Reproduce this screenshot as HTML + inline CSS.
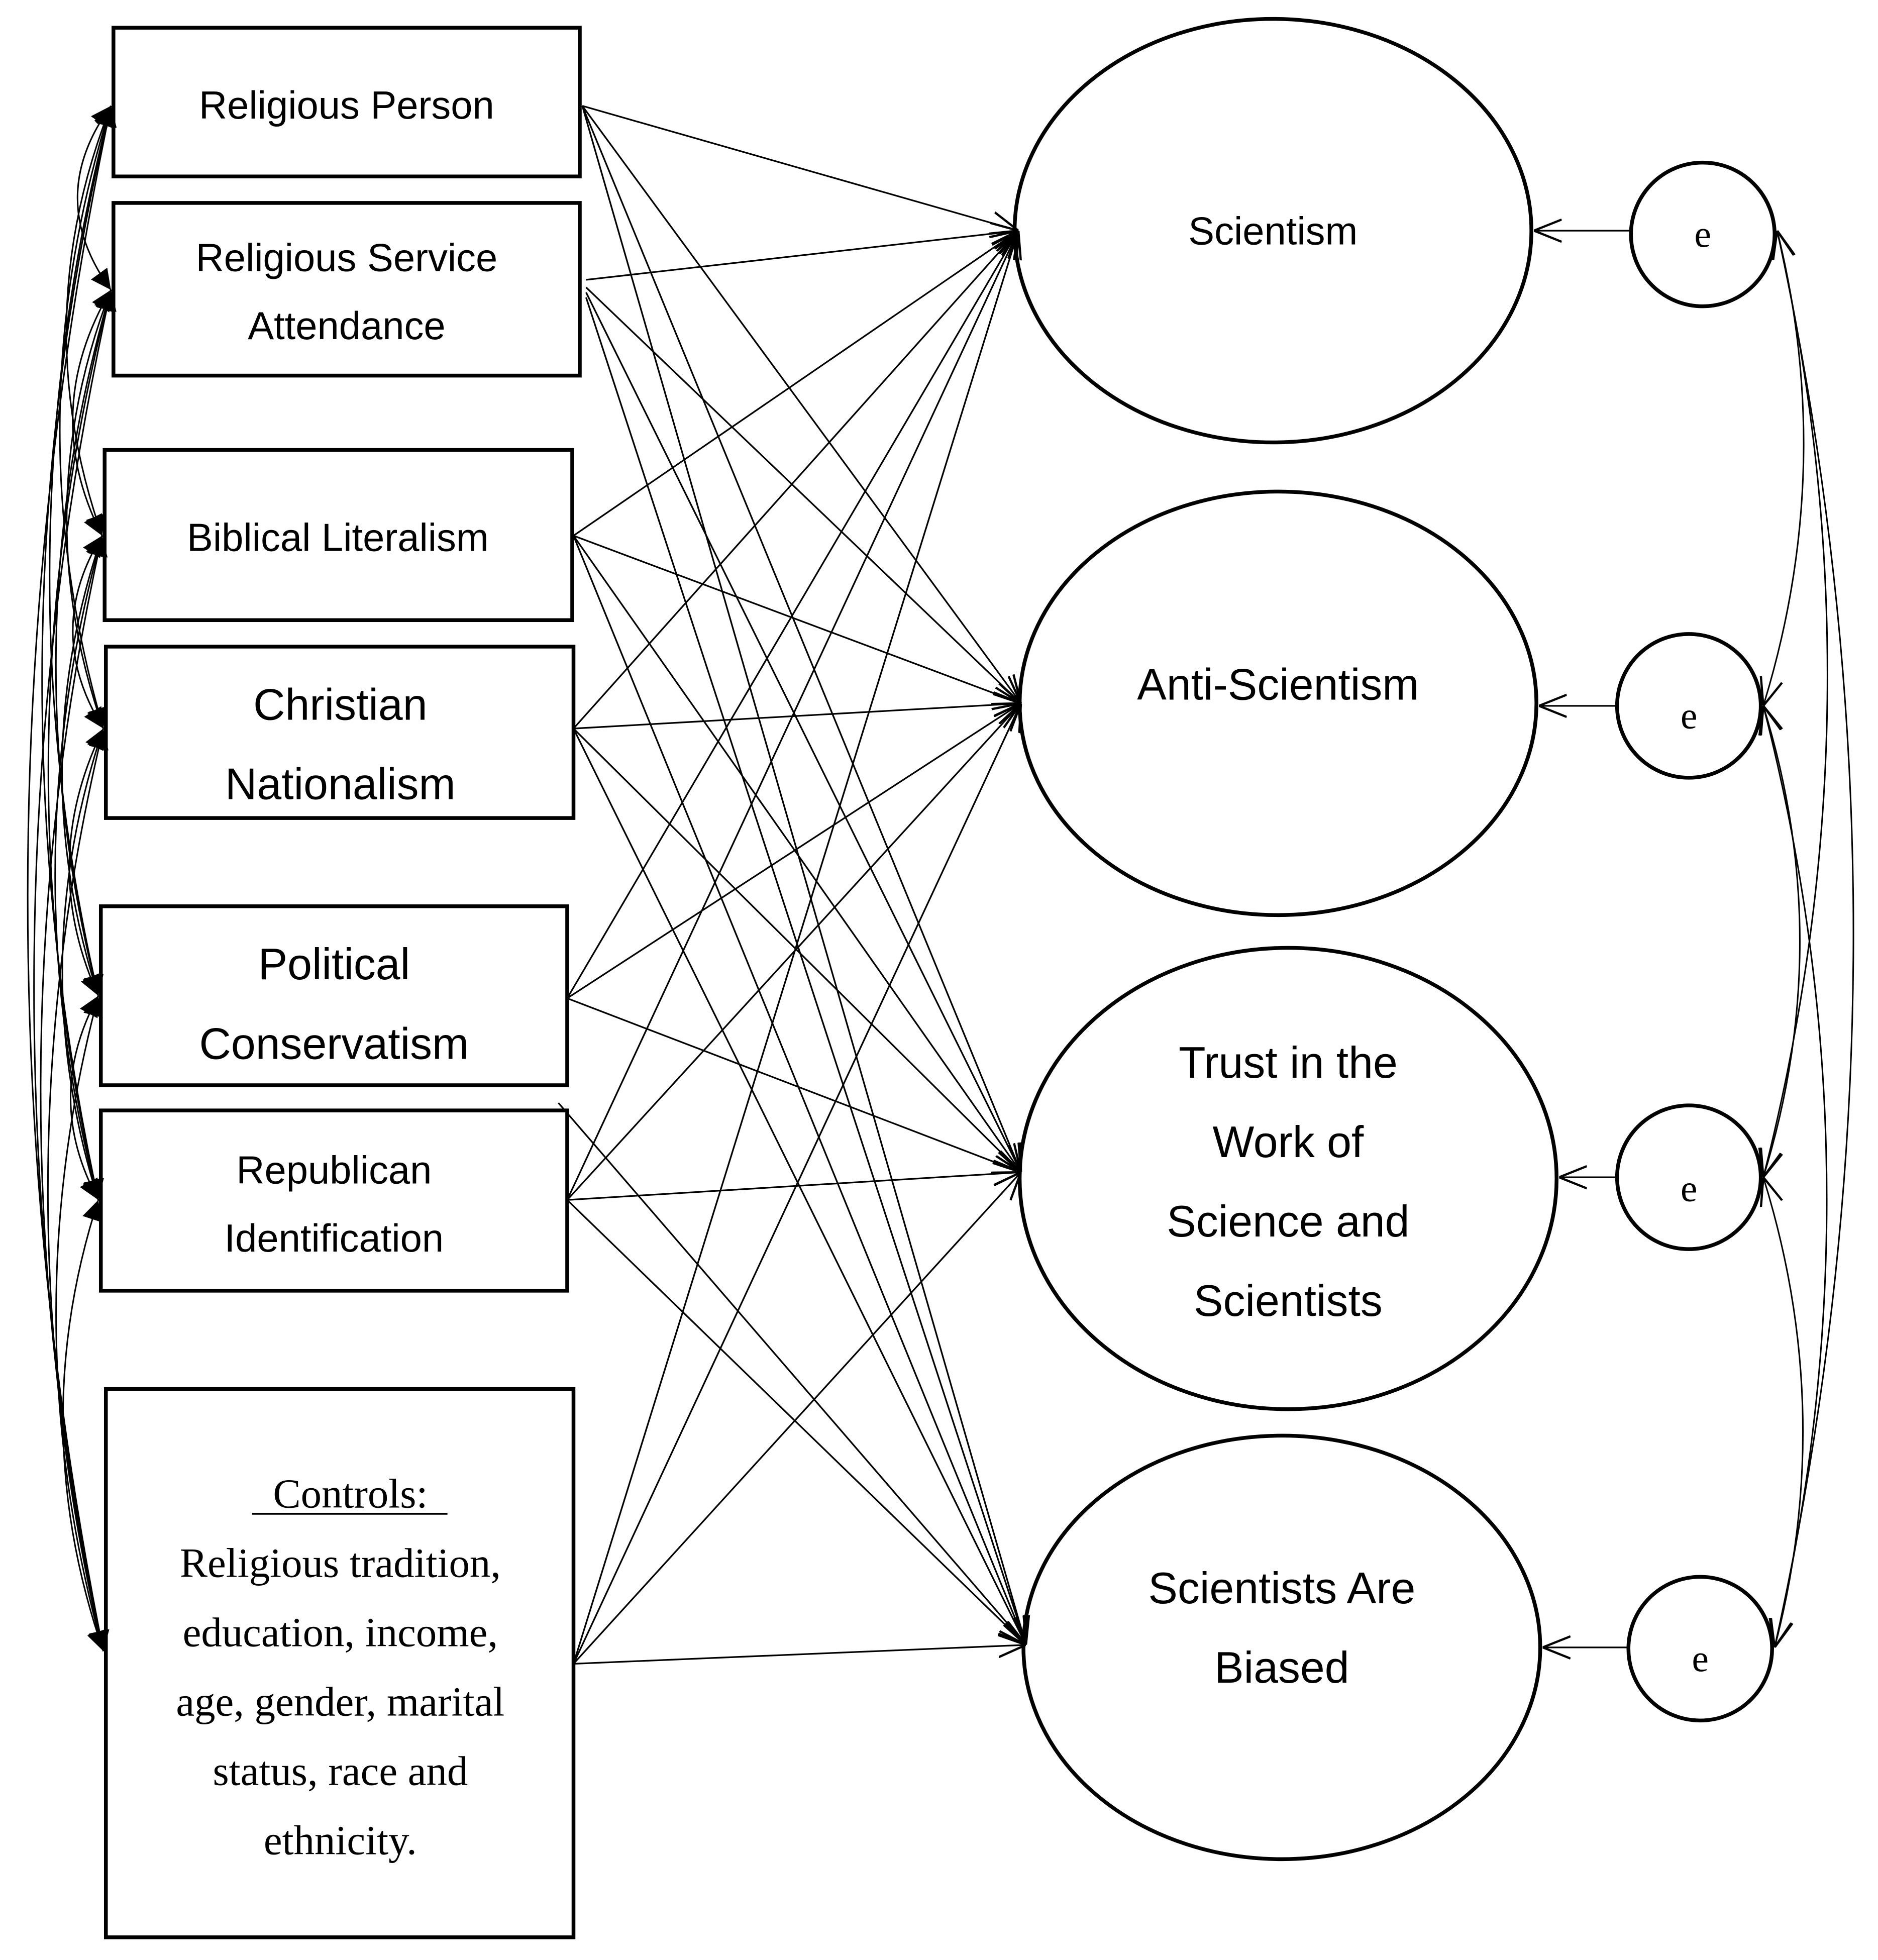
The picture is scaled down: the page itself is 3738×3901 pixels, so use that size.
<!DOCTYPE html>
<html><head><meta charset="utf-8"><style>
html,body{margin:0;padding:0;background:#fff}
svg{display:block}
.s{font-family:"Liberation Sans",sans-serif;fill:#000}
.r{font-family:"Liberation Serif",serif;fill:#000}
</style></head><body>
<svg width="3738" height="3901" viewBox="0 0 1490 1555" xmlns="http://www.w3.org/2000/svg">
<defs>
<marker id="f" viewBox="0 0 10 10" refX="10" refY="5" markerWidth="16" markerHeight="16" markerUnits="userSpaceOnUse" orient="auto-start-reverse"><path d="M0,0 L10,5 L0,10 z" fill="#000"/></marker>
<marker id="o" viewBox="0 0 10 10" refX="10" refY="5" markerWidth="22" markerHeight="22" markerUnits="userSpaceOnUse" orient="auto-start-reverse"><path d="M0,1 L10,5 L0,9" fill="none" stroke="#000" stroke-width="0.8"/></marker>
</defs>
<rect width="1490" height="1555" fill="#fff"/>
<g fill="none" stroke="#000" stroke-width="3">
<rect x="90" y="22" width="370" height="118"/>
<rect x="90" y="161" width="370" height="137"/>
<rect x="83" y="357" width="371" height="135"/>
<rect x="84" y="513" width="371" height="136"/>
<rect x="80" y="719" width="370" height="142"/>
<rect x="80" y="881" width="370" height="143"/>
<rect x="84" y="1102" width="371" height="435"/>
<ellipse cx="1010" cy="183" rx="205" ry="168"/>
<ellipse cx="1014" cy="558" rx="205" ry="168"/>
<ellipse cx="1022" cy="935" rx="213" ry="183"/>
<ellipse cx="1017" cy="1307" rx="205" ry="168"/>
<circle cx="1351" cy="186" r="57"/>
<circle cx="1340" cy="560" r="57"/>
<circle cx="1340" cy="934" r="57"/>
<circle cx="1349" cy="1308" r="57"/>
</g>
<g fill="none" stroke="#000" stroke-width="1.3" marker-end="url(#o)">
<line x1="1294" y1="183" x2="1217" y2="183"/>
<line x1="1283" y1="560" x2="1221" y2="560"/>
<line x1="1283" y1="934" x2="1237" y2="934"/>
<line x1="1292" y1="1307" x2="1224" y2="1307"/>
</g>
<g fill="none" stroke="#000" stroke-width="1.3" marker-end="url(#o)">
<line x1="462" y1="84" x2="808" y2="183"/><line x1="462" y1="84" x2="810" y2="558"/><line x1="462" y1="84" x2="810" y2="930"/><line x1="462" y1="84" x2="814" y2="1305"/>
<line x1="465" y1="222" x2="808" y2="183"/><line x1="465" y1="228" x2="810" y2="558"/><line x1="465" y1="232" x2="810" y2="930"/><line x1="465" y1="236" x2="814" y2="1305"/>
<line x1="455" y1="425" x2="808" y2="183"/><line x1="455" y1="425" x2="810" y2="558"/><line x1="455" y1="425" x2="810" y2="930"/><line x1="455" y1="425" x2="814" y2="1305"/>
<line x1="455" y1="578" x2="808" y2="183"/><line x1="455" y1="578" x2="810" y2="558"/><line x1="455" y1="578" x2="810" y2="930"/><line x1="455" y1="578" x2="814" y2="1305"/>
<line x1="450" y1="792" x2="808" y2="183"/><line x1="450" y1="792" x2="810" y2="558"/><line x1="450" y1="792" x2="810" y2="930"/><line x1="443" y1="875" x2="814" y2="1305"/>
<line x1="450" y1="952" x2="808" y2="183"/><line x1="450" y1="952" x2="810" y2="558"/><line x1="450" y1="952" x2="810" y2="930"/><line x1="450" y1="952" x2="814" y2="1305"/>
<line x1="455" y1="1320" x2="808" y2="183"/><line x1="455" y1="1320" x2="810" y2="558"/><line x1="455" y1="1320" x2="810" y2="930"/><line x1="455" y1="1320" x2="814" y2="1305"/>
</g>
<g fill="none" stroke="#000" stroke-width="1.2" marker-start="url(#f)" marker-end="url(#f)">
<path d="M88 84 Q35 157 88 230"/>
<path d="M88 84 Q21 254 81 425"/>
<path d="M88 84 Q10 331 82 578"/>
<path d="M88 84 Q-4 437 78 790"/>
<path d="M88 84 Q-16 518 78 952"/>
<path d="M88 84 Q-41 697 82 1310"/>
<path d="M88 230 Q31 327 81 425"/>
<path d="M88 230 Q21 404 82 578"/>
<path d="M88 230 Q6 510 78 790"/>
<path d="M88 230 Q-6 591 78 952"/>
<path d="M88 230 Q-31 770 82 1310"/>
<path d="M81 425 Q34 501 82 578"/>
<path d="M81 425 Q19 607 78 790"/>
<path d="M81 425 Q8 688 78 952"/>
<path d="M81 425 Q-17 867 82 1310"/>
<path d="M82 578 Q30 684 78 790"/>
<path d="M82 578 Q19 765 78 952"/>
<path d="M82 578 Q-6 944 82 1310"/>
<path d="M78 790 Q34 871 78 952"/>
<path d="M78 790 Q9 1050 82 1310"/>
<path d="M78 952 Q20 1131 82 1310"/>
</g>
<g fill="none" stroke="#000" stroke-width="1.2" marker-start="url(#o)" marker-end="url(#o)">
<path d="M1410 183 Q1457 372 1399 560"/>
<path d="M1410 183 Q1495 558 1399 934"/>
<path d="M1410 183 Q1532 745 1408 1307"/>
<path d="M1399 560 Q1457 747 1399 934"/>
<path d="M1399 560 Q1495 933 1408 1307"/>
<path d="M1399 934 Q1457 1120 1408 1307"/>
</g>
<g class="s" font-size="31" text-anchor="middle">
<text x="275" y="94">Religious Person</text>
<text x="275" y="215">Religious Service</text>
<text x="275" y="269">Attendance</text>
<text x="268" y="437">Biblical Literalism</text>
<text x="270" y="571" font-size="35">Christian</text>
<text x="270" y="634" font-size="35">Nationalism</text>
<text x="265" y="777" font-size="35">Political</text>
<text x="265" y="840" font-size="35">Conservatism</text>
<text x="265" y="939">Republican</text>
<text x="265" y="993">Identification</text>
<text x="1010" y="194">Scientism</text>
<text x="1014" y="555" font-size="35">Anti-Scientism</text>
<text x="1022" y="855" font-size="35">Trust in the</text>
<text x="1022" y="918" font-size="35">Work of</text>
<text x="1022" y="981" font-size="35">Science and</text>
<text x="1022" y="1044" font-size="35">Scientists</text>
<text x="1017" y="1272" font-size="35">Scientists Are</text>
<text x="1017" y="1335" font-size="35">Biased</text>
</g>
<g class="r" font-size="33" text-anchor="middle">
<text x="278" y="1196">Controls:</text>
<line x1="200" y1="1201" x2="355" y2="1201" stroke="#000" stroke-width="1.5"/>
<text x="270" y="1251">Religious tradition,</text>
<text x="270" y="1306">education, income,</text>
<text x="270" y="1361">age, gender, marital</text>
<text x="270" y="1416">status, race and</text>
<text x="270" y="1471">ethnicity.</text>
<text x="1351" y="196" font-size="30">e</text>
<text x="1340" y="578" font-size="30">e</text>
<text x="1340" y="953" font-size="30">e</text>
<text x="1349" y="1326" font-size="30">e</text>
</g>
</svg>
</body></html>
